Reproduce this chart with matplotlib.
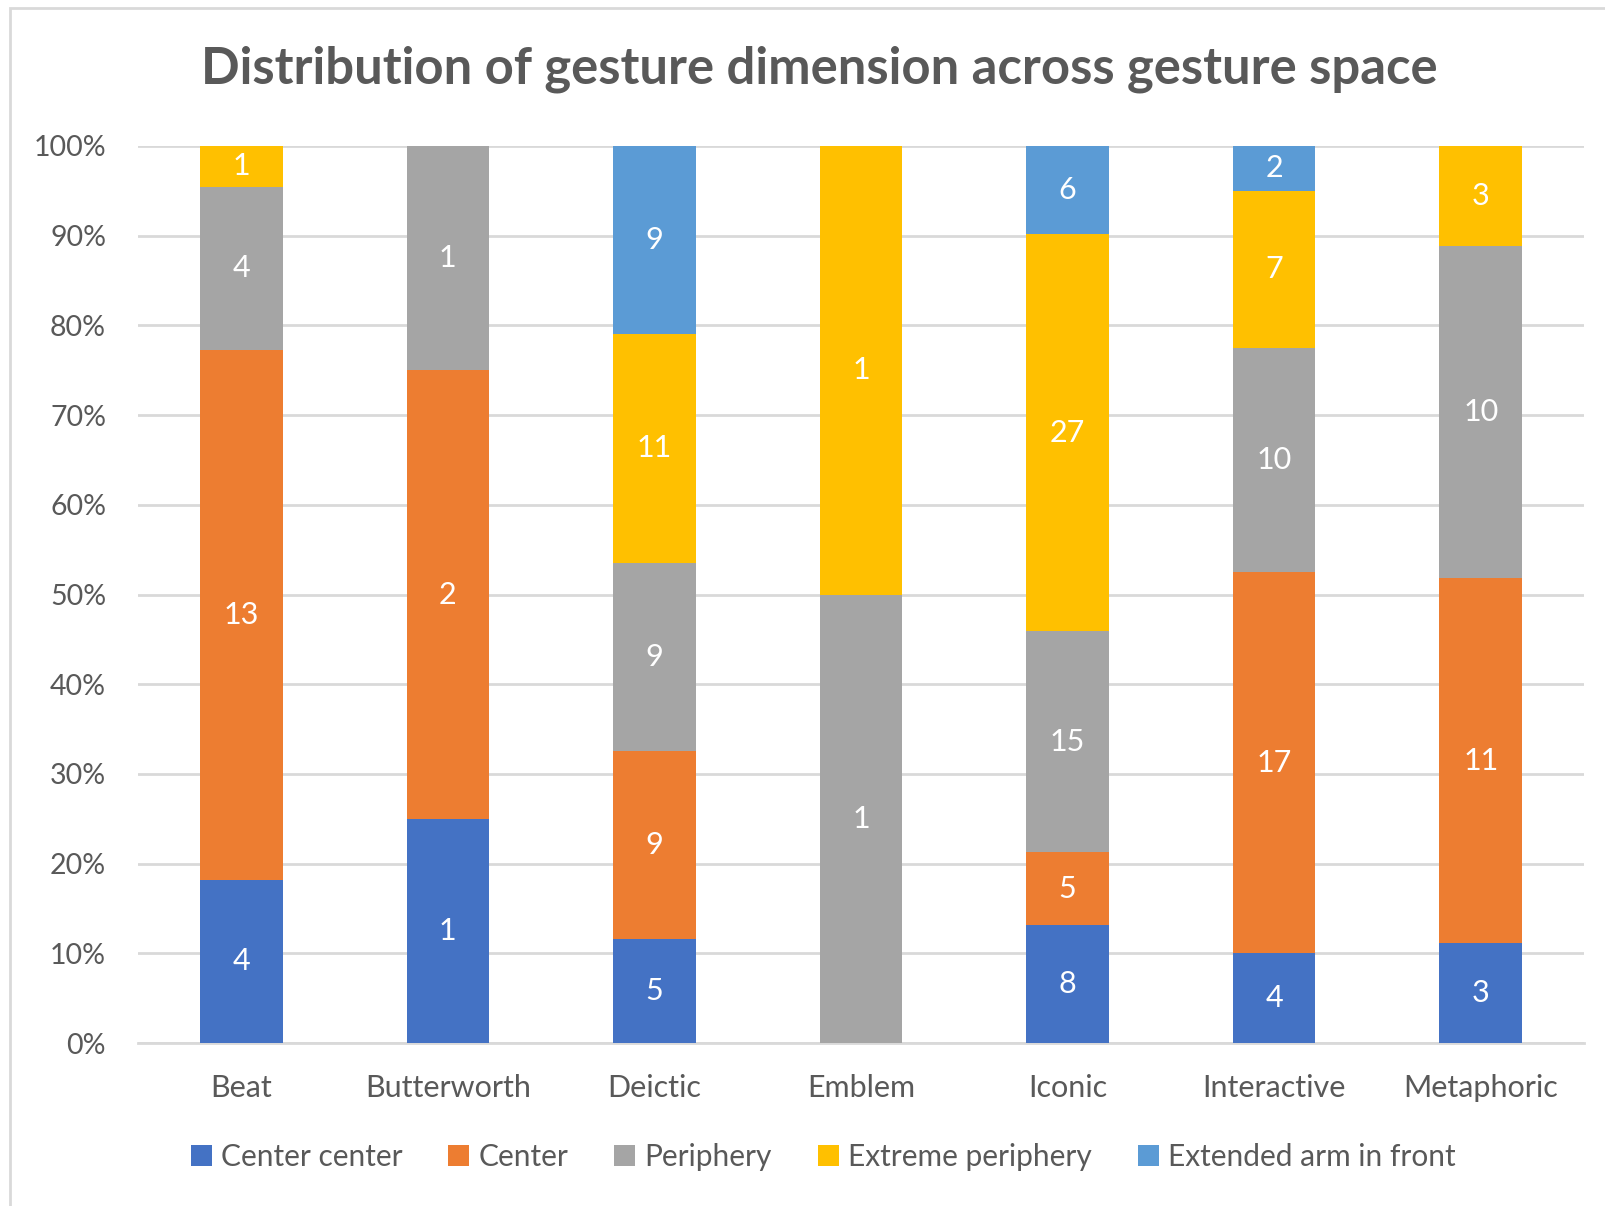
import matplotlib
matplotlib.use("Agg")
import matplotlib.pyplot as plt
import numpy as np
from matplotlib.patches import Rectangle

plt.rcParams['font.family'] = ['Lato', 'DejaVu Sans']

categories = ['Beat', 'Butterworth', 'Deictic', 'Emblem', 'Iconic', 'Interactive', 'Metaphoric']
series_names = ['Center center', 'Center', 'Periphery', 'Extreme periphery', 'Extended arm in front']
center_center = [4, 1, 5, 0, 8, 4, 3]
center = [13, 2, 9, 0, 5, 17, 11]
periphery = [4, 1, 9, 1, 15, 10, 10]
extreme_periphery = [1, 0, 11, 1, 27, 7, 3]
extended_arm = [0, 0, 9, 0, 6, 2, 0]
colors = ['#4472C4', '#ED7D31', '#A5A5A5', '#FFC000', '#5B9BD5']

TEXT = '#595959'
GRID = '#D9D9D9'

counts = np.array([center_center, center, periphery, extreme_periphery, extended_arm], dtype=float)
shares = counts / counts.sum(axis=0)

fig = plt.figure(figsize=(16.06, 12.06), dpi=100)
# chart-area border (cropped screenshot: only left/top visible)
fig.patches.append(Rectangle((10 / 1606, -0.1), 1.2, 1 - 8 / 1206 + 0.1, transform=fig.transFigure,
                             fill=False, edgecolor=GRID, linewidth=2))

ax = fig.add_axes([138 / 1606, 1 - 1043 / 1206, 1446 / 1606, 897 / 1206])
x = np.arange(len(categories))
bottom = np.zeros(len(categories))
for name, vals, share, col in zip(series_names, counts, shares, colors):
    ax.bar(x, share, 0.4, bottom=bottom, color=col, label=name, zorder=3)
    for xi, v, s, b in zip(x, vals, share, bottom):
        if v > 0:
            ax.text(xi, b + s / 2, f'{int(v)}', ha='center', va='center',
                    color='white', fontsize=22, zorder=4)
    bottom += share

ax.set_xlim(-0.5, len(categories) - 0.5)
ax.set_ylim(0, 1)
ax.set_yticks(np.linspace(0, 1, 11))
ax.set_yticklabels([f'{int(round(t * 100))}%' for t in np.linspace(0, 1, 11)])
ax.set_xticks(x)
ax.set_xticklabels(categories)
ax.tick_params(axis='both', length=0, labelcolor=TEXT)
ax.tick_params(axis='y', pad=23, labelsize=20.5)
ax.tick_params(axis='x', pad=22, labelsize=22)
ax.grid(axis='y', color=GRID, linewidth=2, zorder=0)
for side in ['top', 'right', 'left']:
    ax.spines[side].set_visible(False)
ax.spines['bottom'].set_color(GRID)
ax.spines['bottom'].set_linewidth(2)
ax.spines['bottom'].set_zorder(2)

fig.text(819 / 1606, 1 - 69 / 1206, 'Distribution of gesture dimension across gesture space',
         ha='center', va='center', fontsize=36.5, fontweight='bold', color=TEXT)

handles, labels = ax.get_legend_handles_labels()
fig.legend(handles, labels, loc='center', bbox_to_anchor=(823 / 1606, 1 - 1157 / 1206), ncol=5,
           frameon=False, fontsize=21.5, labelcolor=TEXT, handlelength=0.7, handleheight=0.7,
           handletextpad=0.3, columnspacing=1.55)

fig.savefig('out.png', dpi=100)
